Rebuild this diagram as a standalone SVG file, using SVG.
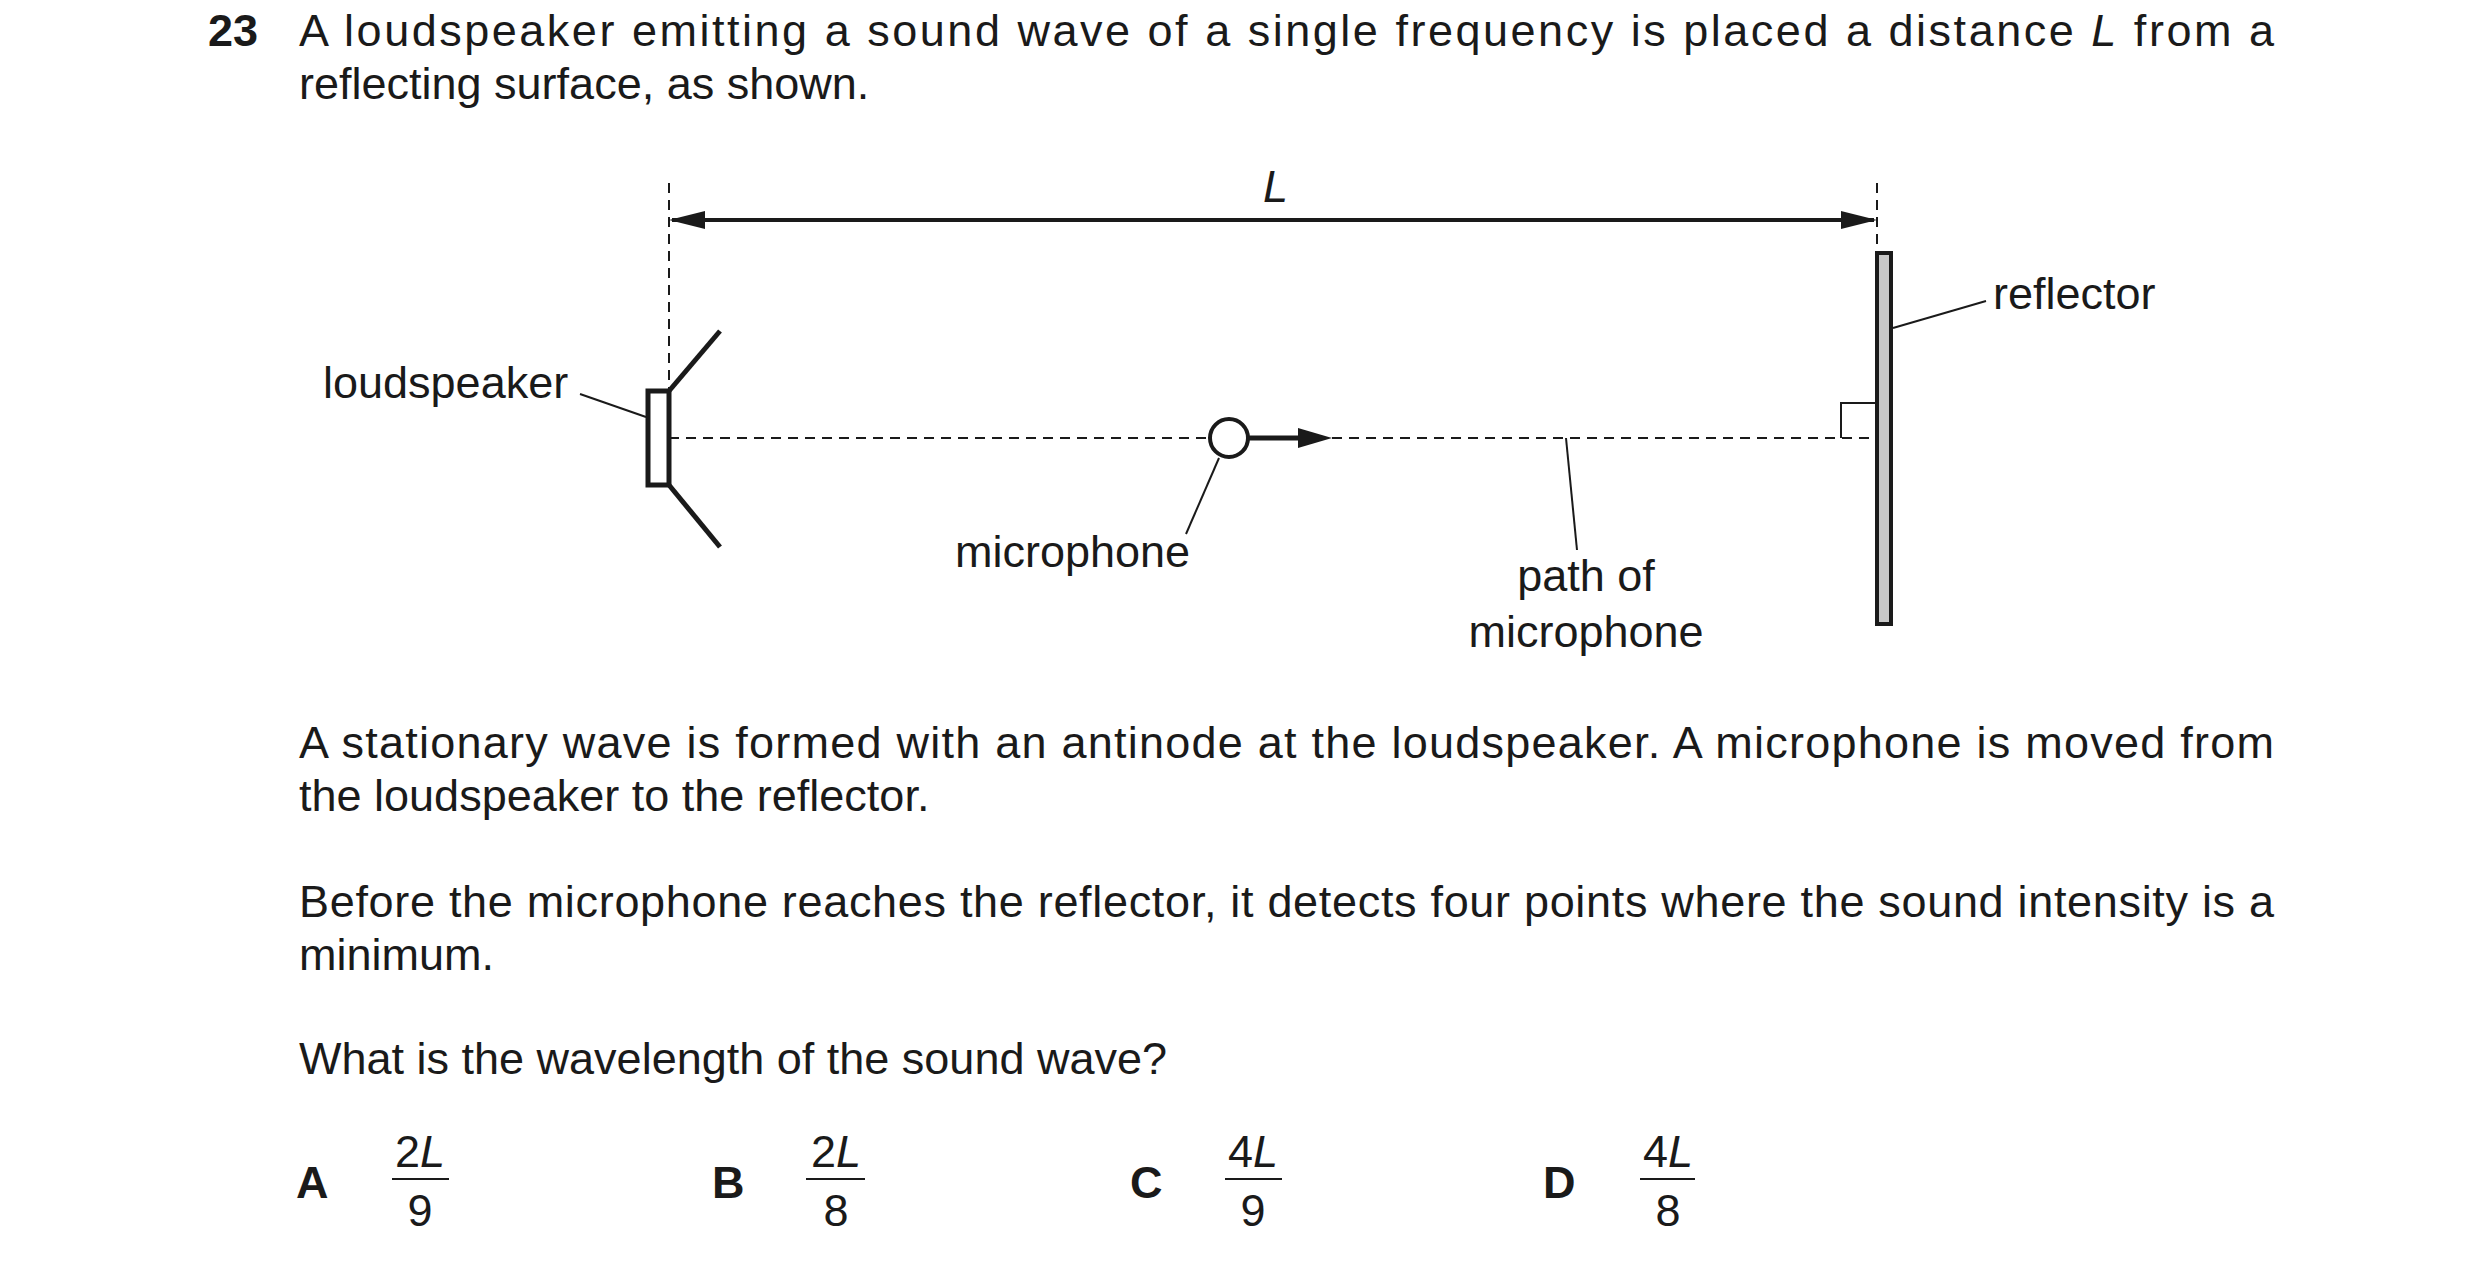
<svg xmlns="http://www.w3.org/2000/svg" width="2480" height="1267" viewBox="0 0 2480 1267">
<style>
text{font-family:"Liberation Sans",Arial,sans-serif;font-size:45px;fill:#1a1a1a}
.b{font-weight:bold}
.i{font-style:italic}
.m{text-anchor:middle}
.d{stroke:#1a1a1a;stroke-width:2;stroke-dasharray:10,7;fill:none}
.t{stroke:#1a1a1a;stroke-width:2;fill:none}
.k{stroke:#1a1a1a;stroke-width:5;fill:none}
</style>
<rect width="2480" height="1267" fill="#fff"/>
<g id="question">
<text class="b" x="208" y="46">23</text>
<text x="299" y="46" textLength="1975" lengthAdjust="spacing">A loudspeaker emitting a sound wave of a single frequency is placed a distance <tspan class="i">L</tspan> from a</text>
<text x="299" y="99">reflecting surface, as shown.</text>
<text x="299" y="758" textLength="1975" lengthAdjust="spacing">A stationary wave is formed with an antinode at the loudspeaker. A microphone is moved from</text>
<text x="299" y="811">the loudspeaker to the reflector.</text>
<text x="299" y="917" textLength="1975" lengthAdjust="spacing">Before the microphone reaches the reflector, it detects four points where the sound intensity is a</text>
<text x="299" y="970">minimum.</text>
<text x="299" y="1074">What is the wavelength of the sound wave?</text>
</g>
<g id="connectors">
<line class="d" x1="669" y1="183" x2="669" y2="389"/>
<line class="d" x1="1877" y1="183" x2="1877" y2="250"/>
<line x1="672" y1="220" x2="1874" y2="220" stroke="#1a1a1a" stroke-width="4"/>
<path d="M669,220L705,211L705,229z" fill="#1a1a1a"/>
<path d="M1877,220L1841,211L1841,229z" fill="#1a1a1a"/>
<line class="d" x1="669" y1="438" x2="1210" y2="438"/>
<line class="d" x1="1332" y1="438" x2="1876" y2="438"/>
<line x1="1248" y1="438" x2="1300" y2="438" stroke="#1a1a1a" stroke-width="5"/>
<path d="M1332,438L1298,428L1298,448z" fill="#1a1a1a"/>
<polyline class="t" points="1841,438 1841,403 1876,403"/>
<line class="t" x1="580" y1="394" x2="646" y2="417"/>
<line class="t" x1="1219" y1="458" x2="1186" y2="534"/>
<line class="t" x1="1566" y1="438" x2="1577" y2="550"/>
<line class="t" x1="1893" y1="328" x2="1986" y2="301"/>
</g>
<g id="loudspeaker">
<rect x="648" y="391" width="21" height="94" fill="#fff" stroke="#1a1a1a" stroke-width="5"/>
<line class="k" x1="669" y1="391" x2="720" y2="331"/>
<line class="k" x1="669" y1="485" x2="720" y2="547"/>
<text x="323" y="398">loudspeaker</text>
</g>
<g id="microphone">
<circle cx="1229" cy="438" r="19" fill="#fff" stroke="#1a1a1a" stroke-width="4"/>
<text x="955" y="567">microphone</text>
</g>
<g id="reflector">
<rect x="1877" y="253" width="14" height="371" fill="#c8c8c8" stroke="#1a1a1a" stroke-width="4"/>
<text x="1993" y="309">reflector</text>
</g>
<g id="path-label">
<text class="m" x="1586" y="591">path of</text>
<text class="m" x="1586" y="647">microphone</text>
</g>
<text class="i" x="1263" y="202">L</text>
<g id="options">
<text class="b" x="296" y="1198">A</text>
<text class="m" x="420" y="1167">2<tspan class="i">L</tspan></text>
<line class="t" x1="392" y1="1179" x2="449" y2="1179"/>
<text class="m" x="420" y="1226">9</text>
<text class="b" x="712" y="1198">B</text>
<text class="m" x="836" y="1167">2<tspan class="i">L</tspan></text>
<line class="t" x1="806" y1="1179" x2="865" y2="1179"/>
<text class="m" x="836" y="1226">8</text>
<text class="b" x="1130" y="1198">C</text>
<text class="m" x="1253" y="1167">4<tspan class="i">L</tspan></text>
<line class="t" x1="1225" y1="1179" x2="1282" y2="1179"/>
<text class="m" x="1253" y="1226">9</text>
<text class="b" x="1543" y="1198">D</text>
<text class="m" x="1668" y="1167">4<tspan class="i">L</tspan></text>
<line class="t" x1="1640" y1="1179" x2="1695" y2="1179"/>
<text class="m" x="1668" y="1226">8</text>
</g>
</svg>
